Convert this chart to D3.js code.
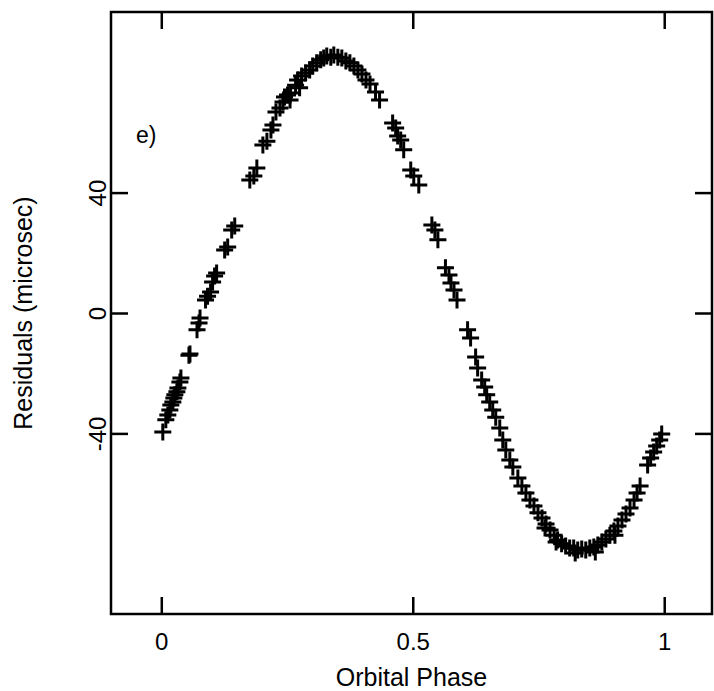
<!DOCTYPE html>
<html>
<head>
<meta charset="utf-8">
<script src="https://cdn.jsdelivr.net/npm/d3@7"></script>
<style>
  html, body { margin: 0; padding: 0; background: #fff; }
  svg { display: block; }
  text { font-family: "Liberation Sans", Arial, Helvetica, sans-serif; fill: #000; }
</style>
</head>
<body>
<svg id="chart" width="714" height="691"></svg>
<script>
// Timing residuals folded on the orbital period
const phase = [
  0.003, 0.009, 0.013, 0.017, 0.019, 0.023, 0.025, 0.027, 0.031, 0.033, 0.037, 0.039,
  0.055, 0.057, 0.071, 0.075, 0.077, 0.088, 0.092, 0.098, 0.102, 0.106, 0.110,
  0.126, 0.132, 0.140, 0.146, 0.176, 0.184, 0.190, 0.202, 0.210, 0.218, 0.222,
  0.228, 0.236, 0.242, 0.245, 0.251, 0.256, 0.257, 0.267, 0.271, 0.275, 0.279, 0.287,
  0.295, 0.301, 0.309, 0.317, 0.323, 0.329, 0.337, 0.343, 0.351, 0.359, 0.367,
  0.375, 0.383, 0.391, 0.399, 0.407, 0.415, 0.426, 0.434,
  0.460, 0.466, 0.470, 0.476, 0.482, 0.496, 0.502, 0.512,
  0.538, 0.544, 0.550, 0.565, 0.572, 0.576, 0.582, 0.588,
  0.609, 0.615, 0.625, 0.629, 0.637, 0.643, 0.647, 0.653, 0.659, 0.665, 0.673,
  0.679, 0.685, 0.693, 0.699, 0.709, 0.717, 0.725, 0.733, 0.741, 0.749, 0.757,
  0.763, 0.765, 0.773, 0.781, 0.785, 0.788, 0.796, 0.804, 0.812, 0.820, 0.823,
  0.828, 0.836, 0.844, 0.852, 0.860, 0.863, 0.868, 0.876, 0.884, 0.892, 0.900,
  0.902, 0.908, 0.916, 0.924, 0.932, 0.940, 0.946, 0.952,
  0.967, 0.973, 0.979, 0.985, 0.991, 0.995
];
const residual = [
  -39.5, -35.5, -33.9, -32.2, -30.6, -29.6, -28.2, -27.2, -26.2, -24.9, -22.9, -21.6,
  -14.0, -13.6, -5.6, -3.3, -1.7, 4.3, 5.6, 7.0, 10.3, 12.3, 13.3,
  20.9, 21.9, 27.6, 28.9, 44.2, 45.5, 48.2, 55.8, 57.1, 60.8, 62.5,
  66.8, 68.1, 70.1, 71.8, 72.4, 70.8, 73.1, 75.7, 77.4, 74.8, 78.7, 79.7,
  80.7, 82.1, 83.1, 84.1, 84.7, 85.4, 85.0, 85.7, 85.0, 84.7, 83.7,
  83.1, 82.1, 80.7, 79.4, 77.4, 76.1, 73.4, 70.8,
  63.1, 61.5, 58.8, 57.5, 54.2, 47.5, 45.5, 42.5,
  29.2, 27.6, 24.3, 15.0, 12.6, 10.0, 7.6, 4.3,
  -5.6, -8.3, -14.6, -18.3, -22.3, -24.6, -27.2, -29.6, -32.2, -34.6, -38.2,
  -42.2, -45.5, -48.8, -51.2, -54.8, -57.5, -59.8, -62.1, -64.1, -66.4, -68.1,
  -71.4, -70.1, -72.1, -73.8, -76.1, -75.4, -76.7, -77.4, -78.1, -78.1, -79.7,
  -78.7, -78.4, -78.7, -78.1, -77.7, -79.4, -77.1, -76.1, -75.1, -73.8, -72.4,
  -73.8, -70.8, -68.8, -66.8, -64.8, -62.1, -59.8, -57.5,
  -50.5, -48.2, -46.2, -44.2, -42.2, -40.2
];
const xTicks = [0, 0.5, 1];
const xTickLabels = ["0", "0.5", "1"];
const yTicks = [-40, 0, 40];
const yTickLabels = ["-40", "0", "40"];
const xTitle = "Orbital Phase";
const yTitle = "Residuals (microsec)";
const panelTag = "e)";

const svg = d3.select("#chart");
const box = { left: 111, top: 12, right: 712, bottom: 614 };

const x = d3.scaleLinear().domain([-0.1, 1.095]).range([box.left, box.right]);
const y = d3.scaleLinear().domain([-100, 100]).range([box.bottom, box.top]);

const tickLen = 17;
const lineW = 2.5;
const fontSize = 24;

// Soft edge for the plotted symbols
svg.append("defs").append("filter").attr("id", "soft")
  .attr("x", "-20%").attr("y", "-20%").attr("width", "140%").attr("height", "140%")
  .append("feGaussianBlur").attr("stdDeviation", 0.7);

// Ticks point inward on all four sides; labels only on bottom and left
const fmtX = (d, i) => xTickLabels[i];
const fmtY = (d, i) => yTickLabels[i];

const gBottom = svg.append("g").attr("transform", `translate(0,${box.bottom})`)
  .call(d3.axisBottom(x).tickValues(xTicks).tickSize(-tickLen).tickPadding(19).tickFormat(fmtX));
const gTop = svg.append("g").attr("transform", `translate(0,${box.top})`)
  .call(d3.axisTop(x).tickValues(xTicks).tickSize(-tickLen).tickFormat(""));
const gLeft = svg.append("g").attr("transform", `translate(${box.left},0)`)
  .call(d3.axisLeft(y).tickValues(yTicks).tickSize(-tickLen).tickFormat(fmtY));
const gRight = svg.append("g").attr("transform", `translate(${box.right},0)`)
  .call(d3.axisRight(y).tickValues(yTicks).tickSize(-tickLen).tickFormat(""));

[gBottom, gTop, gLeft, gRight].forEach(g => {
  g.select(".domain").remove();
  g.selectAll(".tick line").attr("stroke", "#000").attr("stroke-width", lineW);
});

gBottom.selectAll(".tick text")
  .attr("font-size", fontSize).attr("fill", "#000").attr("font-family", null);

// Vertical y tick labels, reading bottom to top
gLeft.selectAll(".tick text")
  .attr("font-size", fontSize).attr("fill", "#000").attr("font-family", null)
  .attr("x", null).attr("dy", null)
  .attr("text-anchor", "middle")
  .attr("transform", "translate(-5,0) rotate(-90)");

// Frame
svg.append("rect")
  .attr("x", box.left).attr("y", box.top)
  .attr("width", box.right - box.left).attr("height", box.bottom - box.top)
  .attr("fill", "none").attr("stroke", "#000").attr("stroke-width", lineW);

// Plus markers
const half = 8.5;
const pts = phase.map((p, i) => ({ p, r: residual[i] }));
svg.append("g").attr("filter", "url(#soft)")
  .selectAll("path").data(pts).join("path")
  .attr("transform", d => `translate(${x(d.p)},${y(d.r)})`)
  .attr("d", `M${-half},0H${half}M0,${-half}V${half}`)
  .attr("stroke", "#000").attr("stroke-width", 3).attr("fill", "none");

// Titles
svg.append("text")
  .attr("x", (box.left + box.right) / 2).attr("y", 686)
  .attr("text-anchor", "middle").attr("font-size", 25)
  .text(xTitle);

svg.append("text")
  .attr("transform", `translate(32,${(box.top + box.bottom) / 2}) rotate(-90)`)
  .attr("text-anchor", "middle").attr("font-size", 25)
  .text(yTitle);

svg.append("text")
  .attr("x", 136).attr("y", 143)
  .attr("font-size", 23)
  .text(panelTag);
</script>
</body>
</html>
